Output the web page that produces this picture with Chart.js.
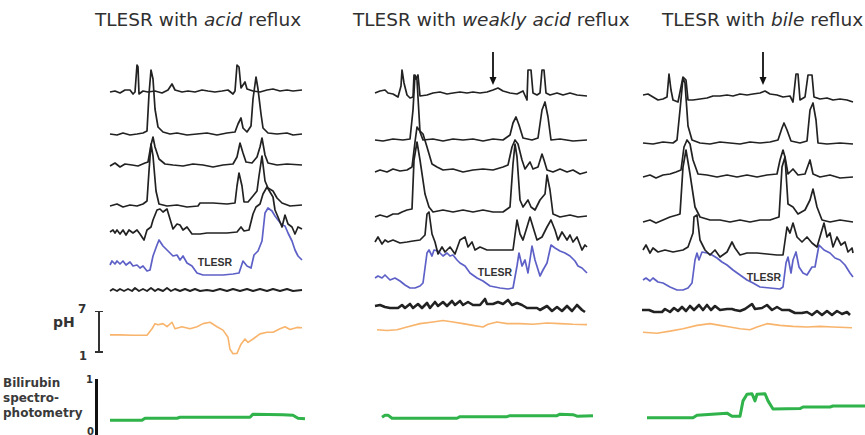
<!DOCTYPE html>
<html>
<head>
<meta charset="utf-8">
<script src="https://cdn.jsdelivr.net/npm/chart.js@4.4.1/dist/chart.umd.min.js"></script>
<style>
  body { margin: 0; width: 865px; height: 435px; overflow: hidden; background: #fff; position: relative;
         font-family: "DejaVu Sans", Verdana, sans-serif; color: #2b2b2b; }
  canvas { position: absolute; }
  .title { position: absolute; top: 11px; font-size: 18.5px; line-height: 1; white-space: nowrap; color: #303030; }
  .tag { position: absolute; font: bold 10.5px "Liberation Sans", Arial, sans-serif; line-height: 1;
         transform: translate(-50%, -50%); color: #333; }
  .lbl { position: absolute; font-weight: bold; line-height: 1; white-space: nowrap; color: #333; }
  .bar { position: absolute; background: #333; }
</style>
</head>
<body>

<div class="title" style="left:95px">TLESR with <i>acid</i> reflux</div>
<div class="title" style="left:353px">TLESR with <i>weakly acid</i> reflux</div>
<div class="title" style="left:662px">TLESR with <i>bile</i> reflux</div>

<div class="tag" style="left:215px;top:262px">TLESR</div>
<div class="tag" style="left:495px;top:272px">TLESR</div>
<div class="tag" style="left:764px;top:277px">TLESR</div>

<!-- pH scale -->
<div class="lbl" style="left:53px;top:315px;font-size:14px">pH</div>
<div class="lbl" style="left:78px;top:303px;font-size:12px">7</div>
<div class="lbl" style="left:79px;top:351px;font-size:11.5px">1</div>
<div class="bar" style="left:98px;top:311px;width:1.6px;height:41px"></div>
<div class="bar" style="left:95px;top:310.5px;width:8px;height:1.6px"></div>
<div class="bar" style="left:95px;top:351px;width:8px;height:1.6px"></div>

<!-- bilirubin scale -->
<div class="lbl" style="left:3px;top:376px;font-size:12px;line-height:15px;color:#3a3a3a">Bilirubin<br>spectro-<br>photometry</div>
<div class="lbl" style="left:86px;top:375px;font-size:10px">1</div>
<div class="lbl" style="left:87px;top:427px;font-size:10px">0</div>
<div class="bar" style="left:95px;top:379px;width:3.2px;height:56px;background:#111"></div>

<script>
// ─── Data (time in samples from the start of each panel, pressure in arbitrary units) ───

// TLESR with acid reflux
const acidCh1 = [[0,-1],[5,0],[10,-2],[15,1],[20,1],[23,-3],[25,-1],[27,26],[28,24],[29,-3],[33,0],[38,-1],[45,0],[52,-2],[58,1],[62,7],[65,1],[72,-1],[78,0],[85,-1],[92,1],[98,0],[105,-1],[112,0],[118,1],[123,-3],[125,0],[127,26],[129,24],[131,3],[135,9],[137,2],[143,0],[150,-1],[157,1],[163,2],[170,0],[177,1],[183,0],[192,1]];
const acidCh2 = [[0,0],[7,-1],[13,1],[20,-1],[27,0],[33,1],[37,3],[39,40],[41,64],[43,55],[45,25],[48,7],[53,2],[60,0],[67,1],[77,-1],[87,0],[97,1],[107,-1],[117,1],[125,2],[128,10],[131,16],[133,6],[137,2],[141,8],[143,35],[146,57],[148,45],[151,20],[153,6],[158,1],[167,0],[177,1],[183,-1],[192,0]];
const acidCh3 = [[0,-1],[5,2],[10,-2],[15,1],[22,0],[28,-1],[35,2],[38,3],[41,20],[43,28],[45,18],[49,6],[55,1],[63,0],[73,-1],[83,1],[93,0],[103,-2],[113,0],[123,1],[127,8],[130,22],[133,12],[136,3],[142,2],[147,8],[150,18],[152,27],[155,10],[158,2],[167,0],[177,1],[192,0]];
const acidCh4 = [[0,0],[7,2],[13,-1],[20,1],[27,0],[33,2],[37,5],[39,35],[41,62],[43,50],[46,15],[49,2],[57,0],[67,1],[77,-1],[88,0],[90,3],[103,3],[117,2],[125,3],[127,20],[129,33],[132,20],[134,4],[138,4],[143,10],[147,15],[149,30],[152,50],[155,25],[158,18],[163,15],[167,8],[172,3],[180,0],[192,1]];
const acidCh5 = [[0,0],[3,2],[5,-1],[7,2],[10,-2],[13,2],[16,-3],[19,2],[23,-1],[27,2],[30,-2],[34,-8],[37,2],[41,5],[43,12],[47,22],[50,23],[53,20],[57,23],[60,13],[63,3],[67,8],[70,7],[73,2],[77,5],[82,-2],[90,-2],[97,-1],[107,-1],[117,-1],[127,0],[131,5],[134,1],[139,2],[143,18],[146,25],[150,28],[153,38],[157,45],[160,40],[163,35],[165,22],[168,15],[172,5],[175,17],[178,8],[182,5],[185,-2],[188,5],[192,3]];
const acidLes = [[0,-2],[2,2],[5,-1],[7,2],[10,-1],[13,2],[16,-2],[20,1],[23,-3],[27,-2],[30,-5],[33,-3],[37,-8],[40,-7],[43,7],[47,18],[49,23],[53,17],[57,13],[60,10],[63,7],[67,8],[70,3],[73,7],[77,0],[82,-3],[87,-10],[93,-12],[103,-12],[113,-12],[123,-11],[129,-10],[133,2],[137,-3],[141,-5],[144,8],[148,12],[152,22],[155,50],[158,55],[162,52],[165,47],[168,43],[172,38],[175,37],[178,30],[182,22],[185,13],[188,7],[192,3]];
const acidStomach = [[0,-1],[3,1],[7,-1],[10,1],[14,-1],[18,1],[22,-1],[25,2],[29,-1],[33,1],[37,-1],[41,2],[45,-1],[48,1],[53,-1],[57,2],[61,-1],[65,1],[70,-1],[75,1],[80,-1],[85,1],[90,-1],[97,0],[103,-1],[110,1],[117,-1],[123,1],[130,-1],[137,1],[143,-1],[150,1],[157,-1],[163,1],[170,-1],[177,1],[183,-1],[192,0]];
const acidPh = [[0,3.5],[10,3.5],[23,3.45],[37,3.45],[42,4.4],[45,5.15],[48,5.0],[53,5.15],[57,4.7],[62,5.35],[65,4.4],[72,4.7],[80,4.4],[87,4.7],[93,5.15],[100,5.35],[107,4.7],[113,4.2],[118,3.15],[120,1.4],[123,0.75],[127,0.8],[131,2.15],[135,2.9],[138,2.4],[143,2.9],[150,3.65],[157,3.9],[163,3.9],[170,4.4],[175,4.7],[180,4.3],[187,4.6],[192,4.55]];
const acidBili = [[0,0.23],[32,0.23],[35,0.27],[67,0.27],[70,0.29],[140,0.29],[143,0.35],[173,0.34],[183,0.33],[188,0.27],[195,0.26]];

// TLESR with weakly acid reflux
const weakCh1 = [[0,0],[5,2],[10,3],[13,0],[18,-1],[23,-4],[26,7],[27,23],[29,10],[32,-2],[35,-5],[38,-4],[39,18],[41,14],[43,18],[45,-3],[52,-2],[58,0],[65,1],[72,-1],[78,0],[85,1],[92,0],[98,1],[105,0],[112,1],[118,3],[123,5],[128,2],[135,0],[142,-1],[148,2],[152,-7],[153,23],[156,23],[158,0],[162,-2],[165,0],[167,23],[169,23],[171,0],[175,-2],[182,0],[188,-2],[195,0],[202,-2],[212,-3]];
const weakCh2 = [[0,0],[8,-1],[18,1],[28,0],[35,1],[38,30],[40,65],[42,60],[45,8],[48,0],[58,1],[68,-1],[78,1],[88,0],[98,1],[108,-1],[118,1],[128,0],[135,5],[138,17],[141,23],[144,15],[148,2],[157,0],[163,2],[167,30],[170,38],[173,23],[176,0],[185,1],[198,-1],[212,0]];
const weakCh3 = [[0,0],[5,2],[12,0],[18,3],[25,1],[32,2],[37,5],[40,30],[42,45],[44,42],[48,38],[52,25],[57,8],[62,5],[68,2],[78,3],[88,0],[98,2],[108,3],[118,2],[128,5],[133,7],[137,25],[140,32],[143,28],[147,12],[150,3],[155,10],[158,3],[163,5],[167,18],[169,12],[172,2],[178,0],[185,3],[192,0],[198,2],[205,-2],[212,0]];
const weakCh4 = [[0,0],[5,2],[12,0],[18,3],[23,3],[27,5],[32,7],[37,8],[39,57],[42,75],[45,57],[50,23],[54,10],[58,5],[68,7],[78,5],[88,7],[98,5],[108,7],[118,5],[128,5],[135,10],[138,53],[140,73],[142,60],[145,17],[148,10],[153,17],[156,10],[160,7],[165,17],[170,23],[172,42],[175,27],[178,3],[185,0],[195,2],[203,0],[212,1]];
const weakCh5 = [[0,0],[3,5],[7,-2],[10,2],[13,0],[18,2],[25,-1],[32,0],[38,1],[45,2],[50,7],[52,28],[54,30],[57,8],[60,0],[63,-12],[67,-5],[70,-10],[75,-5],[80,-12],[85,2],[90,5],[93,-5],[97,0],[100,-8],[105,-5],[112,-8],[122,-8],[132,-8],[138,-8],[142,22],[145,8],[148,2],[152,15],[155,25],[158,15],[162,2],[167,5],[172,15],[176,22],[180,12],[183,2],[187,10],[192,2],[195,7],[198,0],[202,5],[207,-8],[210,-3],[212,-5]];
const weakLes = [[0,0],[3,2],[7,0],[10,3],[15,-2],[20,0],[25,-3],[30,-7],[35,-10],[40,-10],[45,-8],[48,-5],[52,25],[54,28],[57,22],[59,28],[63,27],[68,22],[72,25],[75,22],[78,23],[82,18],[85,15],[90,12],[95,5],[102,0],[108,-3],[115,-8],[125,-10],[133,-11],[138,-10],[142,12],[144,25],[147,12],[150,18],[153,5],[157,32],[160,18],[165,2],[168,8],[172,15],[176,33],[180,30],[185,27],[190,25],[195,22],[200,17],[203,12],[207,10],[212,5]];
const weakStomach = [[0,1],[5,2],[10,0],[15,-1],[23,-1],[27,2],[30,-1],[35,3],[38,-1],[43,3],[47,-1],[52,4],[55,-1],[60,5],[63,1],[68,5],[72,1],[77,6],[80,2],[85,6],[88,2],[93,5],[98,2],[105,2],[110,8],[112,3],[118,3],[123,5],[128,3],[133,7],[137,2],[142,4],[147,2],[152,-1],[162,-1],[165,-3],[172,1],[177,-4],[182,0],[187,-4],[192,1],[197,-4],[202,2],[207,-3],[210,-5]];
const weakPh = [[2,4.25],[12,4.15],[22,4.25],[32,4.65],[45,5.15],[58,5.4],[68,5.6],[78,5.4],[88,5.15],[98,4.9],[108,4.65],[113,5.05],[122,5.4],[132,5.15],[145,5.15],[158,5.05],[172,5.25],[185,5.15],[198,5.05],[212,5.0]];
const weakBili = [[7,0.29],[10,0.33],[13,0.33],[17,0.27],[82,0.27],[85,0.3],[132,0.3],[135,0.32],[182,0.32],[185,0.35],[198,0.34],[202,0.31],[218,0.32]];

// TLESR with bile reflux
const bileCh1 = [[0,2],[5,3],[10,0],[15,-3],[20,-2],[24,0],[26,23],[28,7],[30,-3],[35,-5],[38,10],[40,20],[43,17],[45,-3],[50,-3],[57,-2],[64,-1],[70,1],[77,1],[84,2],[90,1],[97,3],[104,2],[110,3],[117,4],[122,6],[127,3],[134,2],[140,0],[147,1],[150,-5],[153,23],[155,23],[157,-3],[162,0],[165,22],[169,22],[171,0],[177,-2],[184,-1],[190,-3],[197,-2],[204,-3],[210,-5]];
const bileCh2 = [[0,0],[10,-1],[20,1],[30,0],[34,3],[37,33],[40,65],[42,60],[45,17],[49,3],[57,0],[67,-1],[77,1],[87,0],[97,-1],[107,1],[117,0],[127,1],[135,3],[139,15],[141,20],[144,13],[148,2],[157,0],[164,2],[167,33],[170,40],[173,23],[175,0],[184,-1],[197,0],[210,-1]];
const bileCh3 = [[0,0],[7,2],[13,-1],[20,2],[27,3],[33,5],[38,7],[41,30],[44,37],[47,33],[50,17],[55,3],[64,2],[74,0],[84,2],[94,0],[104,2],[114,0],[124,2],[134,3],[137,17],[140,27],[142,20],[145,3],[150,8],[155,2],[162,3],[167,17],[170,3],[177,0],[187,2],[197,-1],[210,0]];
const bileCh4 = [[0,0],[7,2],[13,-1],[20,2],[27,5],[34,7],[37,8],[40,55],[43,72],[47,48],[52,15],[57,5],[67,2],[77,2],[87,0],[97,2],[107,0],[117,2],[127,2],[136,5],[139,55],[142,65],[145,18],[150,15],[155,8],[162,12],[167,22],[170,33],[174,15],[179,2],[187,0],[197,2],[210,0]];
const bileCh5 = [[0,0],[3,5],[7,-3],[10,2],[15,-2],[22,0],[30,-2],[40,0],[45,3],[50,17],[51,33],[54,35],[57,10],[62,0],[67,-5],[72,0],[77,-7],[84,-2],[89,8],[92,2],[97,-5],[104,-3],[114,-3],[124,-4],[134,-5],[140,-5],[144,23],[147,17],[150,27],[154,13],[159,8],[164,13],[169,7],[174,3],[181,27],[184,13],[187,17],[190,3],[194,13],[198,5],[202,8],[205,-2],[209,2],[210,-3]];
const bileLes = [[0,0],[3,2],[7,-1],[10,2],[15,-2],[20,-3],[27,-7],[34,-10],[40,-10],[45,-8],[49,-3],[52,20],[54,27],[56,20],[59,28],[64,27],[69,25],[74,22],[79,18],[84,15],[90,10],[97,5],[104,0],[110,-3],[117,-7],[127,-8],[137,-9],[140,-7],[143,17],[145,23],[148,7],[150,20],[153,28],[156,13],[160,7],[164,5],[169,13],[172,13],[176,35],[181,30],[187,27],[192,22],[197,20],[202,15],[207,7],[210,3]];
const bileStomach = [[-1,1],[6,1],[11,-1],[19,-1],[22,2],[27,-1],[31,3],[35,0],[39,4],[43,0],[47,5],[51,1],[56,6],[60,1],[64,6],[68,1],[72,5],[77,1],[84,2],[89,2],[92,1],[97,0],[102,2],[109,7],[112,2],[119,3],[124,6],[129,1],[134,4],[139,1],[146,1],[152,-2],[159,-2],[164,-1],[169,-4],[174,0],[179,-4],[184,0],[189,-4],[194,0],[199,-3],[204,-1],[207,-4]];
const bilePh = [[0,3.9],[14,3.75],[27,4.05],[40,4.4],[54,4.9],[67,5.15],[77,4.9],[87,4.65],[97,4.4],[107,4.25],[114,4.65],[124,5.15],[137,4.9],[150,4.75],[164,4.65],[177,4.75],[190,4.65],[209,4.55]];
const bileBili = [[4,0.28],[50,0.28],[54,0.33],[84,0.37],[89,0.31],[97,0.31],[100,0.61],[104,0.74],[109,0.75],[112,0.61],[114,0.74],[122,0.75],[125,0.61],[130,0.45],[157,0.46],[160,0.49],[187,0.49],[190,0.51],[222,0.51]];

// reflux event markers (arrow time in the same sample units)
const weakArrowAt = 118;
const bileArrowAt = 120;

// ─── Layout (page pixels) ──────────────────────────────────────────────────

const TOP = 40, H = 395;          // canvas band shared by the three panels
const X_MIN = -6, X_MAX = 226;    // sample window drawn on each canvas
const PH_7 = 311, PH_1 = 352;     // pixel rows of the pH scale bar
const BILI_1 = 381, BILI_0 = 432; // pixel rows of the bilirubin scale bar
const ARROW_TOP = 52, ARROW_TIP = 85;

const LAYOUT = {
  acid: { left: 110, bases: [91, 134, 165, 206, 232, 263, 290], stomachWidth: 1.9 },
  weak: { left: 375, bases: [93, 140, 172, 217, 242, 278, 307], stomachWidth: 2.6 },
  bile: { left: 643, bases: [97, 143, 177, 222, 250, 280, 311], stomachWidth: 2.6 },
};

const BLACK = '#222', BLUE = '#5d60c6', ORANGE = '#f8b46c', GREEN = '#2fb34a';

// ─── Arrow marker plugin ───────────────────────────────────────────────────

const arrowPlugin = {
  id: 'refluxArrow',
  afterDatasetsDraw(chart, args, opts) {
    if (opts.at == null) return;
    const { ctx } = chart;
    const x = chart.scales.x.getPixelForValue(opts.at);
    const y0 = ARROW_TOP - TOP, y1 = ARROW_TIP - TOP;
    ctx.save();
    ctx.strokeStyle = '#111';
    ctx.fillStyle = '#111';
    ctx.lineWidth = 1.8;
    ctx.beginPath();
    ctx.moveTo(x, y0);
    ctx.lineTo(x, y1 - 6);
    ctx.stroke();
    ctx.beginPath();
    ctx.moveTo(x - 3.5, y1 - 8);
    ctx.lineTo(x + 3.5, y1 - 8);
    ctx.lineTo(x, y1);
    ctx.closePath();
    ctx.fill();
    ctx.restore();
  },
};

// ─── Panel builder ─────────────────────────────────────────────────────────

function buildPanel(key, traces, ph, bili, arrowAt) {
  const lay = LAYOUT[key];
  const canvas = document.createElement('canvas');
  canvas.width = X_MAX - X_MIN;
  canvas.height = H;
  canvas.style.left = (lay.left + X_MIN) + 'px';
  canvas.style.top = TOP + 'px';
  document.body.appendChild(canvas);

  const scales = { x: { type: 'linear', min: X_MIN, max: X_MAX, display: false } };
  const datasets = [];

  // every manometry channel gets its own y scale, zero at its baseline, 1 unit = 1 px
  traces.forEach((pts, i) => {
    const id = 'ch' + i;
    const base = lay.bases[i];
    scales[id] = { type: 'linear', display: false, min: -(TOP + H - base), max: base - TOP };
    const isLes = i === 5, isStomach = i === 6;
    datasets.push({
      data: pts.map(([x, y]) => ({ x, y })),
      yAxisID: id,
      borderColor: isLes ? BLUE : BLACK,
      borderWidth: isStomach ? lay.stomachWidth : 1.7,
    });
  });

  // pH on its own scale, aligned to the 7–1 bar
  const phPerPx = 6 / (PH_1 - PH_7);
  scales.ph = { type: 'linear', display: false,
    min: 1 - (TOP + H - PH_1) * phPerPx, max: 7 + (PH_7 - TOP) * phPerPx };
  datasets.push({ data: ph.map(([x, y]) => ({ x, y })), yAxisID: 'ph', borderColor: ORANGE, borderWidth: 1.6 });

  // bilirubin absorbance, aligned to the 0–1 bar
  const biliPerPx = 1 / (BILI_0 - BILI_1);
  scales.bili = { type: 'linear', display: false,
    min: -(TOP + H - BILI_0) * biliPerPx, max: 1 + (BILI_1 - TOP) * biliPerPx };
  datasets.push({ data: bili.map(([x, y]) => ({ x, y })), yAxisID: 'bili', borderColor: GREEN, borderWidth: 3 });

  return new Chart(canvas, {
    type: 'line',
    data: { datasets },
    options: {
      responsive: false,
      animation: false,
      events: [],
      devicePixelRatio: 1,
      layout: { padding: 0 },
      elements: { point: { radius: 0 }, line: { tension: 0, borderJoinStyle: 'round' } },
      plugins: { legend: { display: false }, tooltip: { enabled: false }, refluxArrow: { at: arrowAt } },
      scales,
    },
    plugins: [arrowPlugin],
  });
}

buildPanel('acid', [acidCh1, acidCh2, acidCh3, acidCh4, acidCh5, acidLes, acidStomach], acidPh, acidBili, null);
buildPanel('weak', [weakCh1, weakCh2, weakCh3, weakCh4, weakCh5, weakLes, weakStomach], weakPh, weakBili, weakArrowAt);
buildPanel('bile', [bileCh1, bileCh2, bileCh3, bileCh4, bileCh5, bileLes, bileStomach], bilePh, bileBili, bileArrowAt);
</script>
</body>
</html>
